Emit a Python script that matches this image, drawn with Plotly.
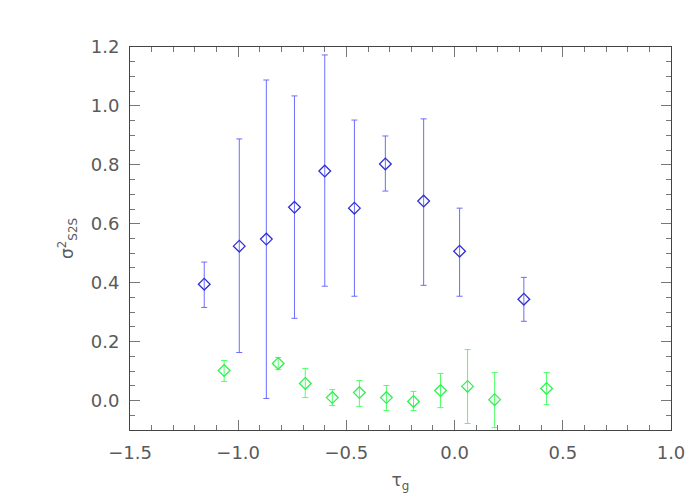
import plotly.graph_objects as go

# blue set (with error bars)
tau_blue = [-1.157, -0.995, -0.87, -0.74, -0.60, -0.463, -0.32, -0.143, 0.023, 0.32]
sig_blue = [0.395, 0.524, 0.548, 0.656, 0.779, 0.653, 0.803, 0.677, 0.507, 0.344]
hi_blue = [0.470, 0.888, 1.088, 1.034, 1.173, 0.952, 0.898, 0.956, 0.653, 0.418]
lo_blue = [0.316, 0.163, 0.007, 0.279, 0.388, 0.354, 0.711, 0.391, 0.354, 0.269]

# green set
tau_green = [-1.065, -0.815, -0.69, -0.565, -0.44, -0.315, -0.19, -0.065, 0.06, 0.185, 0.425]
sig_green = [0.102, 0.126, 0.058, 0.010, 0.027, 0.010, -0.003, 0.034, 0.048, 0.003, 0.041]
hi_green = [0.136, 0.146, 0.109, 0.037, 0.068, 0.051, 0.031, 0.092, 0.173, 0.095, 0.095]
lo_green = [0.065, 0.105, 0.010, -0.017, -0.020, -0.034, -0.034, -0.024, -0.078, -0.092, -0.014]


def err_dict(y, hi, lo, color):
    return dict(type="data", symmetric=False,
                array=[h - v for h, v in zip(hi, y)],
                arrayminus=[v - l for v, l in zip(y, lo)],
                color=color, thickness=1, width=3)


fig = go.Figure()
fig.add_trace(go.Scatter(x=tau_blue, y=sig_blue, mode="markers",
                         marker=dict(symbol="diamond-open", size=9, color="#3030d0",
                                     line=dict(width=1.3, color="#3030d0")),
                         error_y=err_dict(sig_blue, hi_blue, lo_blue, "#6c6cff")))
fig.add_trace(go.Scatter(x=tau_green, y=sig_green, mode="markers",
                         marker=dict(symbol="diamond-open", size=9, color="#30f050",
                                     line=dict(width=1.3, color="#30f050")),
                         error_y=err_dict(sig_green, hi_green, lo_green, "#50ff68")))

axis_style = dict(showline=True, linewidth=1, linecolor="#444", mirror="ticks",
                  ticks="inside", ticklen=10, tickcolor="#777", tickwidth=1,
                  showgrid=False, zeroline=False, automargin=False,
                  ticklabelstandoff=6,
                  tickfont=dict(size=18, color="#5a5a5a", family="DejaVu Sans"))

fig.update_layout(
    width=700, height=500,
    margin=dict(l=122, r=37, t=39, b=78),
    plot_bgcolor="white", paper_bgcolor="white",
    showlegend=False,
    font=dict(family="DejaVu Sans", color="#5a5a5a"),
    xaxis=dict(range=[-1.5, 1.0], tickvals=[-1.5, -1.0, -0.5, 0.0, 0.5, 1.0],
               ticktext=["\u22121.5", "\u22121.0", "\u22120.5", "0.0", "0.5", "1.0"],
               minor=dict(dtick=0.1, ticks="inside", ticklen=5, tickcolor="#777"),
               title=dict(text="\u03c4<sub>g</sub>", font=dict(size=17, color="#5a5a5a"), standoff=12),
               **axis_style),
    yaxis=dict(range=[-0.1, 1.2], tickvals=[0.0, 0.2, 0.4, 0.6, 0.8, 1.0, 1.2],
               tickformat=".1f",
               minor=dict(dtick=0.05, ticks="inside", ticklen=5, tickcolor="#777"),
               title=dict(text="\u03c3<sup>2</sup><sub>S2S</sub>", font=dict(size=17, color="#5a5a5a"),
                          standoff=12),
               **axis_style),
)

fig.write_html("out.html")
